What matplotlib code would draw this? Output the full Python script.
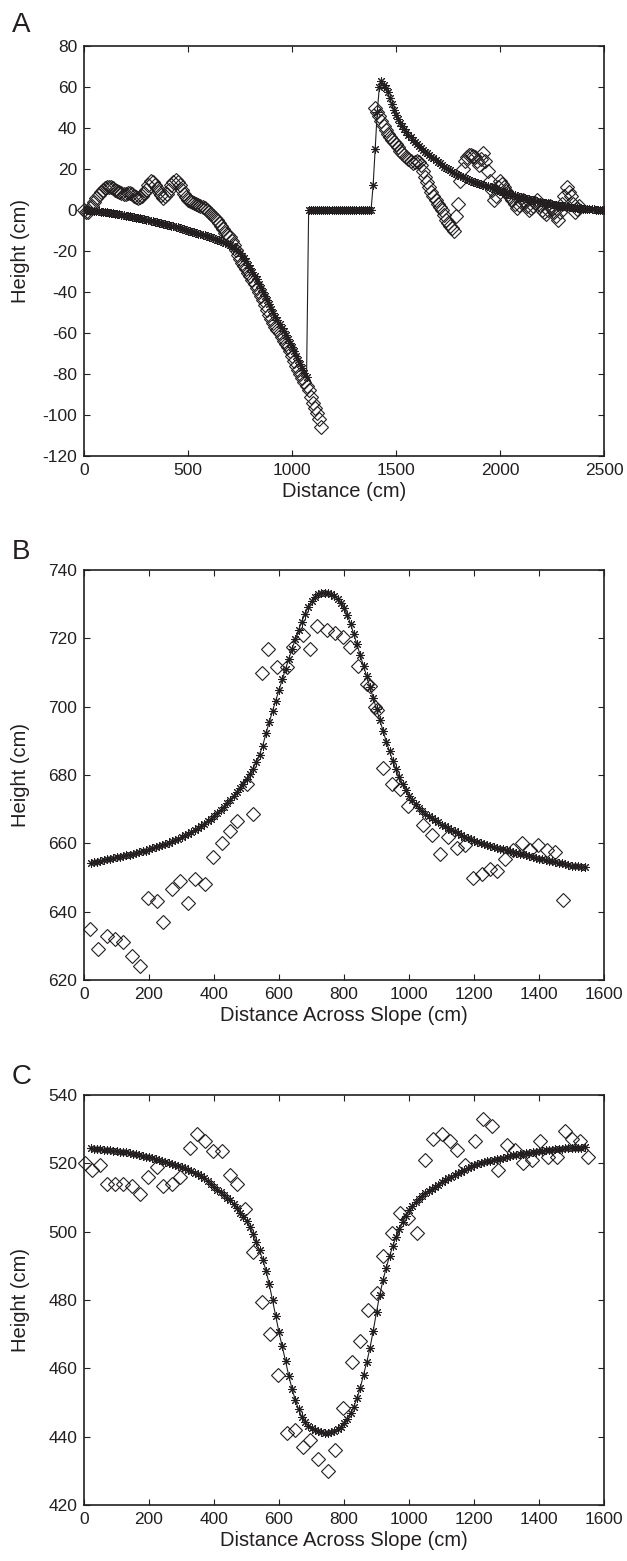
import numpy as np
import matplotlib
matplotlib.use("Agg")
import matplotlib.pyplot as plt

plt.rcParams['font.family'] = ['Liberation Sans', 'DejaVu Sans']
plt.rcParams['axes.unicode_minus'] = False

INK = '#231f20'

# ---------------- Panel A ----------------
a_model_left_x = np.arange(0, 1071, 10)
a_model_left_y = [
    0.0, -0.1, -0.2, -0.3, -0.4, -0.5, -0.6, -0.7, -0.9, -1.0,
    -1.1, -1.2, -1.4, -1.5, -1.6, -1.8, -1.9, -2.1, -2.3, -2.5,
    -2.7, -2.9, -3.1, -3.3, -3.5, -3.7, -3.9, -4.1, -4.4, -4.6,
    -4.9, -5.1, -5.3, -5.6, -5.8, -6.0, -6.3, -6.5, -6.8, -7.0,
    -7.2, -7.5, -7.7, -8.0, -8.2, -8.5, -8.8, -9.1, -9.4, -9.7,
    -10.0, -10.3, -10.6, -10.9, -11.2, -11.5, -11.8, -12.1, -12.4, -12.7,
    -13.0, -13.3, -13.7, -14.0, -14.4, -14.7, -15.1, -15.5, -15.9, -16.4,
    -17.0, -17.6, -18.3, -19.1, -20.0, -21.0, -22.2, -23.5, -25.0, -26.6,
    -28.3, -30.1, -32.0, -33.9, -35.9, -37.9, -39.9, -41.9, -44.0, -46.0,
    -48.1, -50.0, -52.0, -53.9, -55.8, -57.5, -59.2, -61.1, -63.0, -65.0,
    -67.0, -69.0, -71.0, -73.1, -75.2, -77.2, -79.3, -81.5,
]
a_model_flat_x = np.arange(1080, 1381, 10)
a_model_flat_y = [
    0, 0, 0, 0, 0, 0, 0, 0, 0, 0,
    0, 0, 0, 0, 0, 0, 0, 0, 0, 0,
    0, 0, 0, 0, 0, 0, 0, 0, 0, 0,
    0,
]
a_model_right_x = np.arange(1390, 2501, 10)
a_model_right_y = [
    12.0, 30.0, 48.0, 60.0, 63.0, 61.0, 59.3, 57.5, 54.5, 51.5,
    49.0, 46.5, 44.5, 42.5, 41.0, 39.5, 38.1, 36.8, 35.5, 34.3,
    33.2, 32.2, 31.2, 30.3, 29.4, 28.5, 27.6, 26.8, 26.0, 25.2,
    24.3, 23.5, 22.7, 21.9, 21.2, 20.5, 19.9, 19.3, 18.7, 18.2,
    17.6, 17.1, 16.6, 16.1, 15.6, 15.2, 14.7, 14.3, 13.9, 13.6,
    13.2, 12.9, 12.5, 12.2, 11.8, 11.5, 11.1, 10.8, 10.4, 10.1,
    9.7, 9.4, 9.0, 8.7, 8.3, 8.0, 7.7, 7.4, 7.1, 6.8,
    6.5, 6.3, 6.0, 5.8, 5.5, 5.3, 5.0, 4.8, 4.5, 4.3,
    4.0, 3.8, 3.6, 3.4, 3.2, 3.0, 2.8, 2.6, 2.4, 2.3,
    2.1, 2.0, 1.8, 1.7, 1.5, 1.4, 1.2, 1.1, 1.0, 0.9,
    0.8, 0.7, 0.6, 0.5, 0.4, 0.3, 0.25, 0.2, 0.15, 0.1,
    0.05, 0.0,
]

a_obs_left_x = np.arange(0, 1141, 10)
a_obs_left_y = [
    0, -1, -1, 1, 2, 4, 6, 7.5, 9, 10,
    10.5, 11, 11, 11, 10.5, 10, 9.5, 9, 8.5, 8,
    8, 8.5, 8.5, 8, 7, 6.5, 6, 6.5, 7, 8.5,
    10, 12, 14, 13.5, 12, 10.5, 9, 7.5, 6, 7,
    8, 10, 12, 13.5, 14.5, 13.5, 12, 10, 8, 6.5,
    5, 4.5, 4, 3.5, 3, 2.5, 2, 1.5, 1, 0,
    -1, -2, -3, -4, -5, -6.5, -8, -9.5, -11, -12,
    -13, -15, -17, -19.5, -22, -24, -26, -27.5, -29, -30.5,
    -32, -34, -36, -38, -40, -42, -44, -46.5, -49, -51,
    -53, -55, -57, -58.5, -60, -62, -64, -65.5, -67, -69,
    -71, -73.5, -76, -78, -80, -82, -84, -86, -88, -91,
    -94, -96.5, -99, -102, -106,
]
a_obs_right_x = np.arange(1400, 2381, 10)
a_obs_right_y = [
    50, 48, 46, 43.5, 41, 39, 37, 35.5, 34, 33,
    32, 30.5, 29, 28, 27, 26, 25, 24, 23, 23.5,
    24, 23.5, 22, 19, 16, 13.5, 11, 9, 7, 5,
    3, 1.5, 0, -2.5, -5, -6.5, -8, -9, -10, -3,
    3, 14, 20, 24, 26, 27, 27, 26.5, 26, 24,
    22, 25, 28, 24, 19, 14, 10, 5, 7, 11,
    14, 12.5, 11, 9.5, 8, 6.5, 5, 3, 1, 2.5,
    4, 5, 4, 2, 0, 1, 2, 3.5, 5, 2.5,
    0, -1, -2, 0, 2, 0.5, -1, -3, -5, -1,
    3, 7, 11, 9, 7, 3, -1, 0.5, 2,
]

# ---------------- Panel B ----------------
b_model_x = np.arange(20, 1541, 10)
b_model_y = [
    654.2, 654.4, 654.6, 654.8, 655.1, 655.3, 655.5, 655.7, 655.9, 656.1,
    656.3, 656.5, 656.7, 656.9, 657.1, 657.4, 657.7, 657.9, 658.2, 658.5,
    658.8, 659.1, 659.5, 659.8, 660.2, 660.6, 661.0, 661.4, 661.8, 662.3,
    662.8, 663.3, 663.9, 664.5, 665.1, 665.8, 666.5, 667.2, 668.0, 668.8,
    669.7, 670.7, 671.8, 672.8, 673.9, 675.0, 676.2, 677.4, 678.7, 680.2,
    681.9, 683.8, 686.0, 688.6, 692.2, 695.5, 698.7, 701.8, 704.9, 708.0,
    711.0, 714.0, 716.9, 719.7, 722.4, 724.9, 727.2, 729.2, 730.9, 732.1,
    732.9, 733.3, 733.4, 733.3, 733.0, 732.4, 731.5, 730.3, 728.8, 726.9,
    724.3, 721.3, 718.2, 715.1, 712.0, 708.9, 705.7, 702.5, 699.3, 696.1,
    692.9, 689.8, 686.9, 684.2, 681.7, 679.4, 677.3, 675.5, 674.0, 672.7,
    671.5, 670.4, 669.4, 668.6, 667.9, 667.3, 666.7, 666.1, 665.5, 665.0,
    664.5, 664.0, 663.5, 663.0, 662.5, 662.0, 661.6, 661.2, 660.8, 660.4,
    660.1, 659.8, 659.5, 659.2, 658.9, 658.6, 658.4, 658.2, 658.0, 657.8,
    657.6, 657.3, 657.0, 656.8, 656.5, 656.2, 656.0, 655.7, 655.5, 655.3,
    655.1, 654.9, 654.7, 654.5, 654.3, 654.1, 653.9, 653.7, 653.5, 653.4,
    653.3, 653.1, 653.0,
]
b_obs_x = [18, 44, 70, 95, 121, 147, 172, 198, 224, 244, 270, 295, 321, 342,
           372, 398, 424, 449, 470, 501, 521, 547, 567, 593, 624, 644, 675,
           695, 716, 747, 772, 798, 818, 844, 870, 880, 895, 902, 921, 947, 972,
           998, 1044, 1070, 1095, 1121, 1147, 1172, 1198, 1224, 1249, 1270,
           1295, 1321, 1347, 1372, 1398, 1424, 1449, 1475]
b_obs_y = [635, 629, 633, 632, 631, 627, 624, 644, 643, 637, 646.5, 649, 642.5,
           649.5, 648, 656, 660, 663.5, 666.5, 677.5, 668.5, 710, 717, 711.5,
           711.5, 717.5, 721, 717, 723.5, 722.5, 721.5, 720.5, 717.5, 712,
           706.5, 706, 700, 699, 682, 677.5, 676, 671, 665.5, 662.5, 657, 662,
           658.5, 659.5, 650, 651, 652.5, 652, 655.5, 658, 660, 658, 659.5,
           658, 657.5, 643.5]

# ---------------- Panel C ----------------
c_model_x = np.arange(20, 1541, 10)
c_model_y = [
    524.4, 524.3, 524.2, 524.1, 524.0, 523.9, 523.8, 523.7, 523.6, 523.4,
    523.3, 523.2, 523.0, 522.8, 522.6, 522.4, 522.2, 522.0, 521.8, 521.6,
    521.3, 521.0, 520.7, 520.4, 520.1, 519.8, 519.4, 519.1, 518.8, 518.5,
    518.1, 517.7, 517.3, 516.9, 516.3, 515.6, 514.8, 514.0, 513.1, 512.3,
    511.5, 510.7, 509.9, 509.2, 508.0, 506.8, 505.6, 504.4, 503.2, 501.3,
    499.3, 497.0, 494.5, 491.8, 488.6, 484.6, 480.0, 475.3, 470.5, 466.4,
    462.2, 457.8, 454.0, 450.8, 448.0, 445.8, 444.2, 443.2, 442.5, 442.0,
    441.6, 441.3, 441.2, 441.2, 441.4, 441.7, 442.1, 442.9, 444.0, 445.3,
    447.0, 448.8, 451.2, 454.3, 458.0, 461.8, 466.0, 471.0, 476.5, 481.5,
    485.8, 489.5, 492.8, 495.8, 498.4, 500.8, 502.9, 504.7, 506.2, 507.5,
    508.6, 509.6, 510.5, 511.3, 512.0, 512.6, 513.2, 513.8, 514.4, 515.0,
    515.6, 516.1, 516.6, 517.1, 517.6, 518.1, 518.6, 519.0, 519.4, 519.8,
    520.1, 520.4, 520.6, 520.8, 521.0, 521.2, 521.4, 521.6, 521.9, 522.1,
    522.3, 522.5, 522.7, 522.8, 523.0, 523.1, 523.3, 523.4, 523.6, 523.7,
    523.8, 523.9, 524.0, 524.1, 524.2, 524.3, 524.4, 524.4, 524.5, 524.5,
    524.6, 524.6, 524.7,
]
c_obs_x = [3, 24, 49, 70, 95, 121, 147, 172, 198, 224, 244, 270, 295, 326, 347,
           372, 398, 424, 449, 470, 495, 521, 547, 572, 598, 624, 649, 675, 695,
           721, 750, 772, 798, 824, 849, 875, 900, 921, 947, 972, 998, 1024,
           1049, 1075, 1100, 1126, 1147, 1172, 1203, 1229, 1254, 1275, 1300,
           1326, 1352, 1377, 1403, 1429, 1455, 1480, 1500, 1526, 1552]
c_obs_y = [520, 518, 519.5, 514, 514, 514, 513.5, 511, 516, 519, 513.5, 514,
           516, 524.5, 528.5, 526.5, 523.5, 523.5, 516.5, 514, 506.5, 494,
           479.5, 470, 458, 441, 442, 437, 439, 433.5, 430, 436, 448.5, 462,
           468, 477, 482, 493, 499.5, 505.5, 504, 499.5, 521, 527, 528.5,
           526.5, 524, 519.5, 526.5, 533, 531, 518, 525.5, 524, 520, 521,
           526.5, 522, 522, 529.5, 527, 526.5, 522]

a_model_x = np.concatenate([a_model_left_x, a_model_flat_x, a_model_right_x])
a_model_y = list(a_model_left_y) + list(a_model_flat_y) + list(a_model_right_y)

panels = [
    dict(label='A', mx=a_model_x, my=a_model_y,
         obs=[(a_obs_left_x, a_obs_left_y), (a_obs_right_x, a_obs_right_y)],
         xlim=(0, 2500), ylim=(-120, 80), xticks=np.arange(0, 2501, 500),
         yticks=np.arange(-120, 81, 20), xlabel='Distance (cm)',
         rect=(84, 46, 604, 456), lab_y=32),
    dict(label='B', mx=b_model_x, my=b_model_y, obs=[(b_obs_x, b_obs_y)],
         xlim=(0, 1600), ylim=(620, 740), xticks=np.arange(0, 1601, 200),
         yticks=np.arange(620, 741, 20), xlabel='Distance Across Slope (cm)',
         rect=(84, 570, 604, 980), lab_y=559),
    dict(label='C', mx=c_model_x, my=c_model_y, obs=[(c_obs_x, c_obs_y)],
         xlim=(0, 1600), ylim=(420, 540), xticks=np.arange(0, 1601, 200),
         yticks=np.arange(420, 541, 20), xlabel='Distance Across Slope (cm)',
         rect=(84, 1095, 604, 1505), lab_y=1084),
]

W, H = 627, 1561
fig = plt.figure(figsize=(W / 100, H / 100), dpi=100)

for p in panels:
    l, t, r, b = p['rect']
    ax = fig.add_axes([l / W, 1 - b / H, (r - l) / W, (b - t) / H])
    for ox, oy in p['obs']:
        ax.plot(ox, oy, linestyle='none', marker='D', ms=6.8, mfc='none',
                mec=INK, mew=0.8, clip_on=False, zorder=2)
    ax.plot(p['mx'], p['my'], color=INK, lw=0.8, marker=(8, 2, 0), ms=6.3,
            mew=0.75, mec=INK, zorder=3)
    ax.set_xlim(*p['xlim'])
    ax.set_ylim(*p['ylim'])
    ax.set_xticks(p['xticks'])
    ax.set_yticks(p['yticks'])
    ax.tick_params(direction='in', length=4.5, width=0.8, top=True, right=True,
                   labelsize=12.5, colors=INK, pad=5)
    for s in ax.spines.values():
        s.set_linewidth(1.2)
        s.set_color(INK)
    ax.set_xlabel(p['xlabel'], fontsize=14.5, color=INK, labelpad=3)
    ax.set_ylabel('Height (cm)', fontsize=14.5, color=INK)
    ax.yaxis.set_label_coords((30 - l) / (r - l), 0.5)
    fig.text(12 / W, 1 - p['lab_y'] / H, p['label'], fontsize=20, color=INK,
             ha='left', va='baseline')

fig.savefig('out.png', dpi=100)
